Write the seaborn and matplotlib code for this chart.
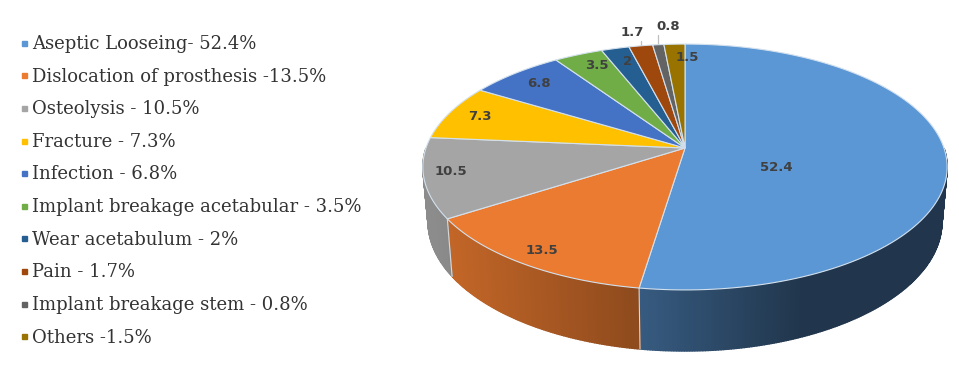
import numpy as np
import seaborn as sns
import matplotlib.pyplot as plt
from matplotlib.lines import Line2D
from matplotlib.patches import Polygon

# Data
values = [52.4, 13.5, 10.5, 7.3, 6.8, 3.5, 2, 1.7, 0.8, 1.5]
value_labels = ["52.4", "13.5", "10.5", "7.3", "6.8", "3.5", "2", "1.7", "0.8", "1.5"]
legend_labels = [
    "Aseptic Looseing- 52.4%",
    "Dislocation of prosthesis -13.5%",
    "Osteolysis - 10.5%",
    "Fracture - 7.3%",
    "Infection - 6.8%",
    "Implant breakage acetabular - 3.5%",
    "Wear acetabulum - 2%",
    "Pain - 1.7%",
    "Implant breakage stem - 0.8%",
    "Others -1.5%",
]
hex_colors = ["#5B97D5", "#EB7B30", "#A5A5A5", "#FFC000", "#4472C4",
              "#70AD47", "#255E91", "#9E480E", "#636363", "#997300"]

# label placement along each slice, then a nudge in pixels
label_r = [0.34, 0.90, 0.90, 0.87, 0.85, 0.85, 0.85, 1.0, 1.0, 0.85]
label_dx = [3, 0, 0, 0, 0, 4, 3, -9, 10, 11]
label_dy = [16, 0, -3, 0, 0, -2, 0, -13, -18, 0]

# pie geometry, in figure pixels
cx, cy = 685, 148
rx, ry, persp = 259, 120, 0.1545
depth, side_sx, side_sy = 54, 0.98, 1.05


def project(theta, r=1.0):
    u = r * np.sin(theta)
    v = r * np.cos(theta)
    w = 1 + persp * v
    return rx * u / w, -ry * v / w


def shade(color, x):
    f = np.interp(x, [430, 640, 800], [0.85, 0.60, 0.36])
    return tuple(c * f for c in color)


sns.set_theme(style="white")
palette = sns.color_palette(hex_colors)

fig = plt.figure(figsize=(9.59, 3.72), dpi=100)
ax = fig.add_axes([0, 0, 1, 1])
ax.set_xlim(0, 959)
ax.set_ylim(372, 0)
ax.axis("off")

edges = np.radians(np.concatenate([[0], np.cumsum(values)]) * 3.6)

# side wall, drawn in thin strips so the shading can run across it
for i, col in enumerate(palette):
    start, stop = edges[i], edges[i + 1]
    n = max(int(np.degrees(stop - start) * 2), 2)
    ts = np.linspace(start, stop, n + 1)
    for a, b in zip(ts[:-1], ts[1:]):
        if np.cos((a + b) / 2) > 0:
            continue
        xa, ya = project(a)
        xb, yb = project(b)
        quad = [
            (cx + xa, cy + ya),
            (cx + xb, cy + yb),
            (cx + xb * side_sx, cy + yb * side_sy + depth),
            (cx + xa * side_sx, cy + ya * side_sy + depth),
        ]
        c = shade(col, cx + (xa + xb) / 2)
        ax.add_patch(Polygon(quad, closed=True, fc=c, ec=c, lw=1.0, zorder=2))

# seams on the wall
for e in edges[1:3]:
    x0, y0 = project(e)
    ax.plot([cx + x0, cx + x0 * side_sx],
            [cy + y0, cy + y0 * side_sy + depth],
            color="#d8d8d8", lw=0.8, zorder=3)

# top face
for i, col in enumerate(palette):
    ts = np.linspace(edges[i], edges[i + 1], 120)
    xs, ys = project(ts)
    pts = np.column_stack([np.r_[cx, cx + xs], np.r_[cy, cy + ys]])
    ax.add_patch(Polygon(pts, closed=True, fc=col, ec="#d3e1ee", lw=0.8, zorder=4))

# value labels
for i, txt in enumerate(value_labels):
    mid = (edges[i] + edges[i + 1]) / 2
    x0, y0 = project(mid, label_r[i])
    ax.text(cx + x0 + label_dx[i], cy + y0 + label_dy[i], txt,
            ha="center", va="center", fontsize=9.5, fontweight="bold",
            family="DejaVu Sans", color="#404040", zorder=6)
    if label_r[i] >= 1:
        ax.plot([cx + x0, cx + x0], [cy + y0, cy + y0 + label_dy[i] + 8],
                color="#bfbfbf", lw=0.9, zorder=3)

handles = [Line2D([], [], ls="", marker="s", ms=3.6, color=c) for c in palette]
ax.legend(handles, legend_labels, loc="upper left", bbox_to_anchor=(0.0175, 0.906),
          frameon=False, labelspacing=0.81, handletextpad=0.05, handlelength=0.8,
          borderpad=0, borderaxespad=0,
          prop={"family": "DejaVu Serif", "size": 13}, labelcolor="#333333")

fig.savefig("out.png", dpi=100)
